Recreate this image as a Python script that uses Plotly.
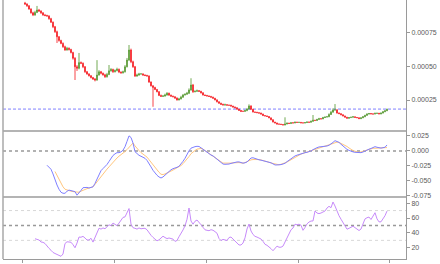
import plotly.graph_objects as go

# ---------------- data ----------------
# closing prices in units of 1e-6
close_e6 = [
    960, 947, 923, 895, 879, 898, 916, 908, 895, 879,
    875, 872, 852, 826, 792, 755, 718, 690, 669, 644,
    620, 633, 624, 601, 559, 496, 485, 527, 522, 496,
    459, 443, 429, 416, 406, 398, 435, 459, 448, 436,
    422, 439, 466, 476, 459, 468, 477, 457, 451, 459,
    496, 546, 620, 533, 496, 427, 435, 443, 443, 435,
    431, 428, 383, 355, 343, 328, 311, 284, 277, 279,
    287, 300, 286, 278, 274, 264, 250, 258, 271, 287,
    293, 300, 324, 361, 311, 315, 319, 314, 303, 287,
    283, 280, 276, 271, 263, 251, 237, 226, 218, 213,
    215, 212, 211, 205, 198, 193, 182, 173, 166, 166,
    172, 183, 206, 181, 161, 159, 156, 153, 146, 135,
    132, 128, 118, 104, 87, 80, 72, 71, 69, 65,
    72, 79, 76, 82, 80, 86, 84, 85, 81, 80,
    83, 87, 85, 92, 100, 98, 106, 112, 110, 120,
    124, 126, 143, 160, 176, 177, 154, 149, 141, 132,
    123, 115, 120, 123, 126, 121, 119, 112, 118, 126,
    136, 146, 150, 147, 146, 151, 152, 147, 153, 163,
    170, 181,
]
first_open_e6 = 968
upper_wick_e6 = [
    8, 6, 5, 6, 8, 12, 30, 8, 6, 5,
    8, 6, 5, 6, 5, 6, 8, 5, 6, 7,
    8, 10, 6, 5, 6, 8, 12, 71, 8, 6,
    5, 6, 5, 6, 5, 6, 110, 12, 6, 5,
    8, 12, 43, 10, 6, 8, 12, 6, 5, 8,
    12, 15, 37, 10, 8, 6, 10, 8, 6, 5,
    5, 6, 4, 5, 4, 5, 4, 5, 6, 8,
    10, 8, 5, 4, 5, 4, 6, 8, 10, 8,
    6, 10, 12, 50, 8, 6, 8, 5, 4, 5,
    4, 5, 4, 5, 4, 3, 4, 3, 4, 5,
    8, 4, 3, 4, 3, 4, 3, 4, 3, 5,
    6, 8, 12, 5, 4, 3, 4, 3, 4, 3,
    3, 4, 3, 2, 3, 2, 3, 4, 3, 2,
    50, 4, 3, 5, 3, 4, 3, 3, 2, 3,
    4, 5, 3, 6, 39, 4, 5, 6, 3, 5,
    4, 6, 8, 10, 12, 43, 6, 4, 3, 3,
    3, 2, 4, 3, 5, 3, 3, 2, 4, 6,
    5, 6, 4, 3, 5, 6, 4, 3, 5, 6,
    5, 6,
]
lower_wick_e6 = [
    6, 8, 5, 6, 8, 6, 5, 6, 8, 6,
    5, 6, 8, 6, 10, 8, 46, 8, 6, 8,
    6, 5, 8, 6, 10, 98, 20, 8, 6, 10,
    8, 6, 5, 6, 8, 10, 6, 5, 8, 6,
    8, 6, 5, 6, 8, 5, 6, 8, 6, 5,
    6, 5, 8, 10, 8, 6, 5, 6, 5, 6,
    4, 5, 6, 5, 143, 5, 4, 5, 4, 3,
    4, 5, 4, 3, 4, 5, 4, 3, 4, 5,
    4, 5, 6, 5, 8, 4, 5, 4, 5, 4,
    3, 4, 3, 4, 3, 4, 5, 3, 4, 3,
    4, 3, 4, 3, 4, 5, 4, 3, 4, 3,
    4, 5, 3, 4, 3, 4, 3, 4, 3, 4,
    3, 2, 3, 4, 3, 2, 3, 2, 3, 2,
    3, 2, 3, 2, 3, 2, 3, 2, 3, 2,
    3, 2, 3, 2, 3, 2, 3, 2, 3, 2,
    3, 2, 3, 4, 3, 4, 5, 3, 4, 3,
    3, 2, 3, 2, 3, 2, 3, 2, 3, 2,
    3, 2, 3, 2, 3, 2, 3, 2, 3, 2,
    3, 2,
]
# MACD line and signal line in units of 1e-3 (aligned to the last candles)
macd_milli = [
    -23.8, -27.2, -30.5, -38.3, -48.3, -56.7, -63.8, -68.8, -70.5, -70.5,
    -67.2, -65.2, -66.0, -67.0, -67.8, -73.7, -70.3, -65.7, -61.2, -60.5,
    -60.7, -61.7, -61.3, -59.7, -54.0, -47.2, -38.7, -32.8, -29.3, -26.0,
    -22.5, -17.5, -12.5, -7.5, -4.8, -2.8, -2.8, -1.5, 1.3, 7.0,
    16.0, 25.2, 22.5, 13.3, -1.2, -4.5, -7.2, -8.8, -10.5, -12.2,
    -15.7, -20.2, -26.5, -32.2, -37.2, -40.5, -43.3, -45.0, -43.3, -40.0,
    -36.7, -33.7, -31.3, -29.5, -28.8, -27.2, -25.5, -21.7, -17.2, -12.2,
    -5.5, 0.3, 4.7, 6.5, 7.2, 7.8, 7.5, 5.3, 2.8, 0.5,
    -2.8, -5.5, -6.8, -8.2, -10.8, -14.2, -17.0, -19.3, -21.8, -22.2,
    -22.2, -21.8, -20.7, -19.7, -19.0, -18.3, -18.2, -19.3, -20.3, -19.7,
    -18.3, -15.0, -11.7, -11.3, -12.7, -14.0, -14.7, -15.3, -16.0, -16.8,
    -17.7, -18.3, -19.7, -21.5, -23.3, -23.3, -23.3, -22.7, -21.7, -20.5,
    -17.8, -15.2, -12.7, -10.5, -8.3, -7.0, -5.7, -4.5, -3.7, -2.8,
    -2.2, -1.5, 0.0, 2.2, 4.5, 5.5, 6.7, 7.2, 7.2, 7.2,
    8.3, 9.5, 11.5, 14.3, 17.2, 16.2, 14.3, 11.2, 8.2, 5.3,
    2.7, 1.0, -0.7, -1.5, -2.2, -2.8, -2.8, -2.8, -1.7, 0.2,
    1.8, 3.0, 4.2, 5.5, 7.2, 6.2, 5.0, 4.8, 5.5, 6.2,
    10.0,
]
signal_milli = [
    -34.2, -41.0, -47.8, -54.3, -59.7, -63.8,
    -65.2, -66.3, -67.0, -67.7, -68.3, -69.0, -68.8, -67.0, -65.3, -64.0,
    -62.8, -61.8, -60.7, -59.7, -55.7, -51.2, -46.8, -42.3, -37.8, -34.0,
    -30.2, -26.5, -22.5, -18.5, -15.0, -11.7, -8.7, -6.5, -4.2, -1.0,
    2.3, 6.0, 10.2, 13.2, 8.5, 3.8, 0.7, -2.7, -5.3, -7.7,
    -10.2, -14.5, -19.0, -23.5, -27.8, -32.2, -35.5, -38.8, -39.3, -38.2,
    -37.0, -35.2, -33.5, -31.8, -30.2, -28.5, -26.3, -24.2, -21.2, -17.8,
    -14.3, -9.3, -4.5, -1.3, 0.8, 3.0, 3.7, 4.3, 3.0, 0.5,
    -0.8, -3.0, -5.8, -8.3, -10.8, -13.3, -15.8, -18.0, -20.2, -20.5,
    -20.5, -20.5, -20.2, -19.8, -19.3, -18.8, -19.3, -19.8, -20.3, -19.3,
    -17.7, -15.8, -14.8, -14.3, -14.2, -13.8, -14.3, -15.0, -15.7, -16.2,
    -17.5, -18.8, -20.0, -21.0, -22.0, -22.8, -23.0, -22.2, -21.3, -20.5,
    -18.5, -16.5, -14.5, -12.3, -10.2, -8.0, -6.3, -5.2, -4.0, -2.8,
    -1.8, -0.8, 0.2, 1.3, 2.5, 3.7, 4.8, 6.0, 7.2, 8.3,
    9.3, 10.3, 11.3, 12.3, 13.7, 14.8, 14.3, 12.8, 11.2, 10.0,
    7.5, 5.0, 2.5, 0.8, -0.5, -1.8, -2.3, -1.5, -0.5, 0.5,
    1.7, 2.8, 4.0, 4.5, 4.5, 4.5, 4.5, 4.5, 4.5, 4.5,
    5.7,
]
rsi_values = [
    32.2, 31.7, 30.5, 27.8, 27.4,
    25.8, 22.0, 19.3, 16.7, 13.8, 12.4, 11.0, 9.7, 8.6, 11.7,
    25.8, 28.1, 27.8, 27.5, 24.2, 20.1, 26.4, 34.5, 34.2, 35.4,
    33.2, 30.5, 30.5, 32.8, 27.7, 34.2, 42.0, 46.3, 45.1, 46.7,
    45.6, 47.8, 50.9, 49.8, 53.2, 51.5, 49.8, 53.2, 56.9, 60.8,
    61.5, 66.2, 72.7, 51.7, 47.0, 46.2, 45.1, 46.7, 45.5, 46.0,
    46.2, 44.2, 40.1, 36.8, 34.0, 31.4, 29.4, 30.7, 32.8, 35.6,
    33.8, 32.4, 33.2, 32.9, 31.7, 28.6, 29.9, 34.9, 38.9, 44.0,
    49.5, 58.3, 73.4, 56.0, 51.7, 55.7, 57.3, 54.6, 51.0, 47.5,
    44.2, 43.5, 43.0, 44.3, 43.6, 41.7, 39.6, 32.5, 29.8, 31.3,
    30.3, 29.8, 33.8, 34.5, 31.8, 29.1, 26.4, 23.8, 23.8, 26.4,
    33.4, 45.2, 51.9, 42.6, 37.9, 35.4, 34.4, 33.2, 31.8, 28.7,
    24.7, 23.4, 21.5, 18.9, 16.1, 19.1, 22.3, 20.8, 20.8, 22.3,
    27.9, 33.4, 39.9, 44.2, 46.6, 51.7, 50.9, 51.7, 50.3, 43.5,
    47.3, 52.1, 54.6, 56.0, 56.0, 69.4, 66.7, 65.9, 66.7, 68.1,
    69.4, 73.4, 75.7, 73.8, 81.5, 76.1, 68.6, 63.1, 58.4, 54.2,
    49.1, 45.0, 46.2, 47.4, 49.0, 47.1, 44.6, 43.2, 45.2, 52.8,
    58.8, 60.4, 61.3, 58.0, 62.0, 67.1, 58.9, 54.8, 54.9, 58.3,
    63.1, 69.3,
]
ref_price = 0.000183
price_ticks = [0.00025, 0.0005, 0.00075]
price_tick_text = ["0.00025", "0.00050", "0.00075"]
macd_ticks = [0.025, 0.0, -0.025, -0.05, -0.075]
macd_tick_text = ["0.025", "0.000", "-0.025", "-0.050", "-0.075"]
rsi_ticks = [20, 40, 60, 80]
rsi_tick_text = ["20", "40", "60", "80"]
rsi_levels = [30, 50, 70]
x_tick_positions = [-1.5, 44.5, 90.5, 136.5, 182]

# ---------------- derived series ----------------
n = len(close_e6)
idx = list(range(n))
close = [v * 1e-6 for v in close_e6]
open_ = [first_open_e6 * 1e-6] + close[:-1]
high = [max(o, c) + w * 1e-6 for o, c, w in zip(open_, close, upper_wick_e6)]
low = [min(o, c) - w * 1e-6 for o, c, w in zip(open_, close, lower_wick_e6)]
macd = [v / 1000 for v in macd_milli]
signal = [v / 1000 for v in signal_milli]
x_macd = idx[n - len(macd):]
x_signal = idx[n - len(signal):]
x_rsi = idx[n - len(rsi_values):]

# ---------------- styling / layout ----------------
W, H = 440, 264
ML, MR, MT, MB = 3, 34, 0, 5
PH = H - MT - MB
sep1_px, sep2_px = 131, 197
y_sep1 = (PH - sep1_px) / PH
y_sep2 = (PH - sep2_px) / PH

RED = "#f5141a"
GREEN = "#4f9428"
AXC = "#9a9a9a"
TICKFONT = dict(family="Liberation Sans, Arial, sans-serif", size=7, color="#5a5a5a")
XRANGE = [-11, 190.5]

fig = go.Figure()
fig.add_trace(go.Candlestick(
    x=idx, open=open_, high=high, low=low, close=close,
    xaxis="x", yaxis="y",
    increasing=dict(line=dict(color=GREEN, width=0.8), fillcolor=GREEN),
    decreasing=dict(line=dict(color=RED, width=0.8), fillcolor=RED),
    whiskerwidth=0, showlegend=False, hoverinfo="skip",
))
fig.add_trace(go.Scatter(x=x_signal, y=signal, mode="lines", xaxis="x2", yaxis="y2",
                         line=dict(color="#ffc67e", width=1), showlegend=False, hoverinfo="skip"))
fig.add_trace(go.Scatter(x=x_macd, y=macd, mode="lines", xaxis="x2", yaxis="y2",
                         line=dict(color="#7f7fff", width=1), showlegend=False, hoverinfo="skip"))
fig.add_trace(go.Scatter(x=x_rsi, y=rsi_values, mode="lines", xaxis="x3", yaxis="y3",
                         line=dict(color="#c78bfa", width=1), showlegend=False, hoverinfo="skip"))

shapes = [
    dict(type="line", xref="paper", yref="y", x0=0, x1=1, y0=ref_price, y1=ref_price,
         line=dict(color="#8080ff", width=1, dash="3px,2px"), layer="below"),
    dict(type="line", xref="paper", yref="y2", x0=0, x1=1, y0=0, y1=0,
         line=dict(color="#999999", width=1.5, dash="dot"), layer="below"),
]
for lv in rsi_levels:
    shapes.append(dict(type="line", xref="paper", yref="y3", x0=0, x1=1, y0=lv, y1=lv,
                       line=dict(color="#999999" if lv == 50 else "#d8d8d8",
                                 width=1.5 if lv == 50 else 1, dash="dot"), layer="below"))
for ys in (y_sep1, y_sep2):
    shapes.append(dict(type="line", xref="paper", yref="paper", x0=0, x1=1, y0=ys, y1=ys,
                       line=dict(color="#b4b4b4", width=2)))
shapes.append(dict(type="line", xref="paper", yref="paper", x0=0, x1=0, y0=0, y1=1,
                   line=dict(color="#a8a8a8", width=1.5)))


def xax(anchor, bottom=False):
    d = dict(domain=[0, 1], anchor=anchor, range=XRANGE, showgrid=False, zeroline=False,
             showticklabels=False, fixedrange=True)
    if bottom:
        d.update(showline=True, linecolor=AXC, linewidth=1, ticks="outside", ticklen=3,
                 tickcolor=AXC, tickvals=x_tick_positions)
    else:
        d.update(showline=False, ticks="")
    return d


def yax(anchor, domain, rng, tv, tt):
    return dict(domain=domain, anchor=anchor, side="right", range=rng, tickvals=tv, ticktext=tt,
                showline=True, linecolor=AXC, linewidth=1, ticks="outside", ticklen=3,
                tickcolor=AXC, tickfont=TICKFONT, showgrid=False, zeroline=False, fixedrange=True)


fig.update_layout(
    width=W, height=H, margin=dict(l=ML, r=MR, t=MT, b=MB),
    paper_bgcolor="white", plot_bgcolor="white", showlegend=False,
    boxgap=0.5,
    xaxis=dict(xax("y"), rangeslider=dict(visible=False)),
    xaxis2=xax("y2"),
    xaxis3=xax("y3", bottom=True),
    yaxis=yax("x", [y_sep1, 1], [0.0000207, 0.00099], price_ticks, price_tick_text),
    yaxis2=yax("x2", [y_sep2, y_sep1], [-0.0767, 0.0333], macd_ticks, macd_tick_text),
    yaxis3=yax("x3", [0, y_sep2], [5.0, 88.2], rsi_ticks, rsi_tick_text),
    shapes=shapes,
)

fig.write_html("out.html")
